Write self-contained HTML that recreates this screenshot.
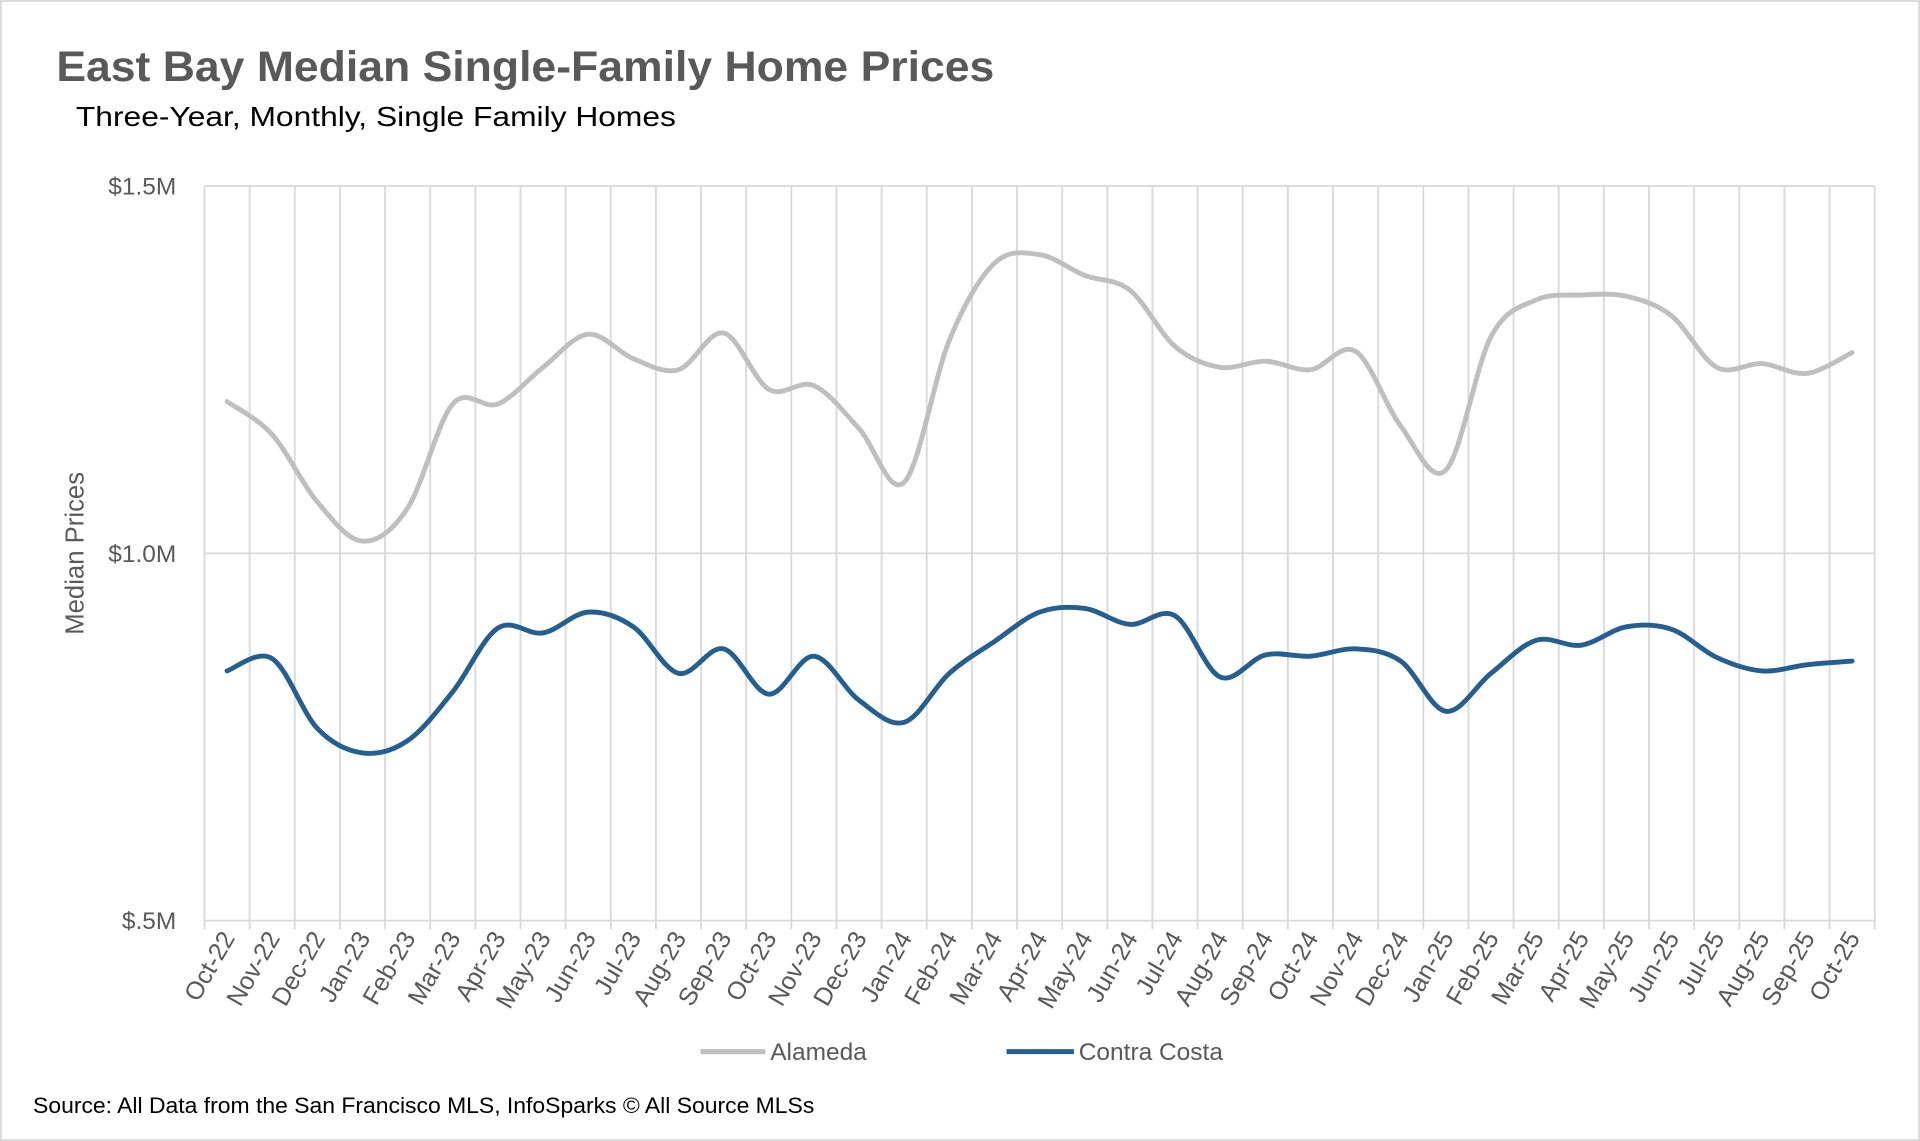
<!DOCTYPE html>
<html><head><meta charset="utf-8"><style>
html,body{margin:0;padding:0;background:#fff;}
svg{display:block;}
text{font-family:"Liberation Sans",sans-serif;}
</style></head><body>
<svg id="s" width="1920" height="1141" viewBox="0 0 1568 932" preserveAspectRatio="none">
<rect x="0.5" y="0.5" width="1567" height="931" fill="#fff" stroke="#d9d9d9" stroke-width="2"/>
<text x="46" y="66" font-size="35" font-weight="bold" fill="#595959" textLength="766" lengthAdjust="spacingAndGlyphs">East Bay Median Single-Family Home Prices</text>
<text x="62" y="103" font-size="23" fill="#000" textLength="490" lengthAdjust="spacingAndGlyphs">Three-Year, Monthly, Single Family Homes</text>
<g id="grid" stroke="#d9d9d9" stroke-width="1.5"></g>
<g font-size="20" fill="#595959" text-anchor="end">
<text x="144" y="159">$1.5M</text><text x="144" y="459">$1.0M</text><text x="144" y="759">$.5M</text>
</g>
<text transform="translate(68,452) rotate(-90)" font-size="21" fill="#595959" text-anchor="middle">Median Prices</text>
<g id="xl" font-size="20.5" fill="#595959" text-anchor="end"></g>
<path id="pa" fill="none" stroke="#bfbfbf" stroke-width="4" stroke-linecap="round"/>
<path id="pc" fill="none" stroke="#255e91" stroke-width="4" stroke-linecap="round"/>
<line x1="572" y1="859" x2="625" y2="859" stroke="#bfbfbf" stroke-width="4"/>
<text x="629" y="866" font-size="20" fill="#595959">Alameda</text>
<line x1="822" y1="859" x2="877" y2="859" stroke="#255e91" stroke-width="4"/>
<text x="881" y="866" font-size="20" fill="#595959">Contra Costa</text>
<text x="27" y="909" font-size="18" fill="#000" textLength="638" lengthAdjust="spacingAndGlyphs">Source: All Data from the San Francisco MLS, InfoSparks © All Source MLSs</text>
</svg>
<script>
var ns="http://www.w3.org/2000/svg";
var L=167,R=1531,T=152,B=752,n=37,w=(R-L)/n;
var g=document.getElementById('grid');
function ln(x1,y1,x2,y2){var e=document.createElementNS(ns,'line');e.setAttribute('x1',x1);e.setAttribute('y1',y1);e.setAttribute('x2',x2);e.setAttribute('y2',y2);g.appendChild(e);}
for(var k=0;k<=n;k++){var x=L+w*k;ln(x,T,x,B+7);}
ln(L,T,R,T);ln(L,452,R,452);ln(L,B,R,B);
var m=["Oct","Nov","Dec","Jan","Feb","Mar","Apr","May","Jun","Jul","Aug","Sep"];
var xl=document.getElementById('xl');
for(var i=0;i<n;i++){var mi=i%12,yr=22+Math.floor((i+9)/12);var t=document.createElementNS(ns,'text');
var cx=L+w*(i+0.5)+7;t.setAttribute('transform','translate('+cx+',766) rotate(-60)');t.textContent=m[mi]+"-"+yr;xl.appendChild(t);}
var A=[328,355,410,442,415,330,330,300,273,293,302,272,318,315,350,394,278,215,208,225,237,283,300,295,302,287,348,384,275,245,241,242,258,300,297,305,288];
var C=[548,538,595,615,605,565,513,517,500,512,550,530,567,536,572,590,550,524,500,497,510,503,553,535,536,530,540,581,550,523,527,512,514,537,548,543,540];
function path(Y){var P=Y.map(function(y,i){return [L+w*(i+0.5),y];});var d="M"+P[0][0]+","+P[0][1];
for(var i=0;i<P.length-1;i++){var p0=P[Math.max(i-1,0)],p1=P[i],p2=P[i+1],p3=P[Math.min(i+2,P.length-1)];
var c1=[p1[0]+(p2[0]-p0[0])/6,p1[1]+(p2[1]-p0[1])/6],c2=[p2[0]-(p3[0]-p1[0])/6,p2[1]-(p3[1]-p1[1])/6];
d+=" C"+c1+" "+c2+" "+p2;}return d;}
document.getElementById('pa').setAttribute('d',path(A));
document.getElementById('pc').setAttribute('d',path(C));
</script>
</body></html>
